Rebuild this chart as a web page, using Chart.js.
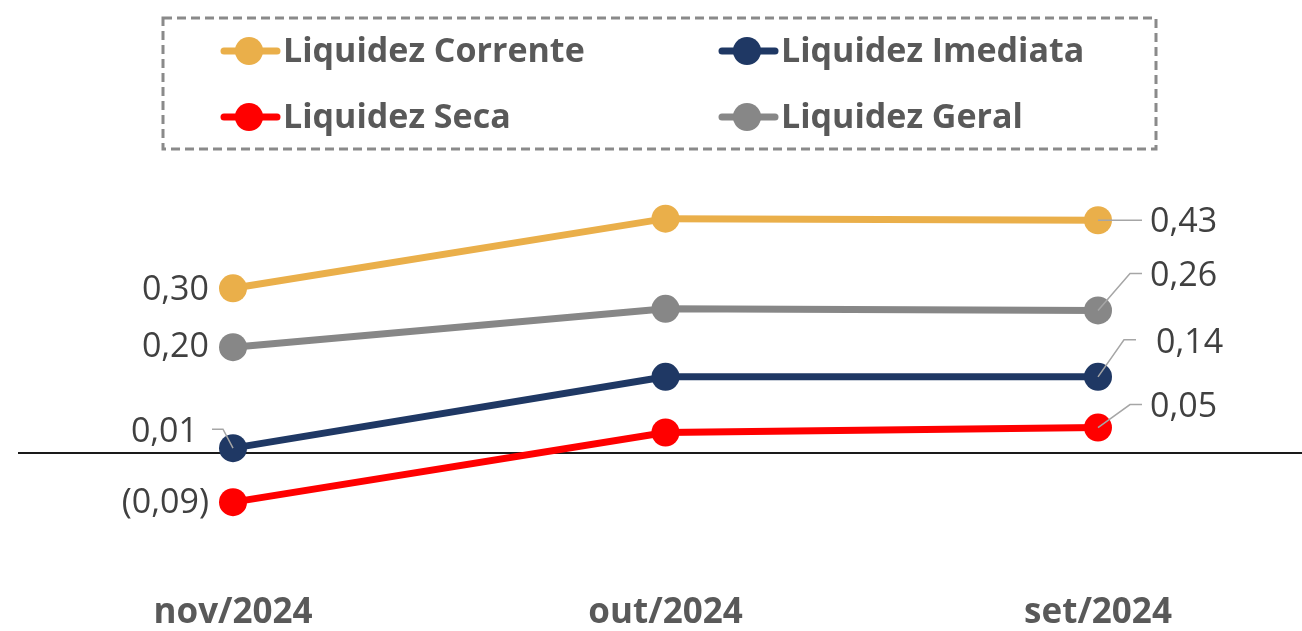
<!DOCTYPE html>
<html><head><meta charset="utf-8">
<script src="https://cdn.jsdelivr.net/npm/chart.js@4.4.1/dist/chart.umd.min.js"></script>
<style>html,body{margin:0;padding:0;background:#fff;}#wrap{width:1302px;height:631px;position:relative;}</style>
</head><body><div id="wrap"><canvas id="c" width="1302" height="631"></canvas></div>
<script>
const categories = ['nov/2024', 'out/2024', 'set/2024'];
const seriesNames = ['Liquidez Corrente', 'Liquidez Imediata', 'Liquidez Seca', 'Liquidez Geral'];
const corrente = [0.305, 0.434, 0.431];
const imediata = [0.009, 0.141, 0.141];
const seca = [-0.091, 0.038, 0.047];
const geral = [0.196, 0.267, 0.264];
const colors = ['#EAAF4A', '#1F3864', '#FF0000', '#878787'];
const yMin = -0.2, yMax = 0.5;

function fmt(v){
  const s = Math.abs(v).toFixed(2).replace('.', ',');
  return v < 0 ? '(' + s + ')' : s;
}

const labelStyle = {
  0: {left:{dx:-24, dy:2, leader:null}, right:{dx:52, dy:2, leader:[[0,0],[44,0]]}},
  1: {left:{dx:-35, dy:-16, leader:[[0,0],[-10,-19],[-21,-19]]}, right:{dx:58, dy:-34, leader:[[0,0],[26,-37],[38,-37]]}},
  2: {left:{dx:-24, dy:1, leader:null}, right:{dx:52, dy:-20, leader:[[0,0],[32,-23],[44,-23]]}},
  3: {left:{dx:-24, dy:0, leader:null}, right:{dx:52, dy:-34, leader:[[0,0],[32,-37],[44,-37]]}}
};

const zeroLine = {
  id:'zeroLine',
  beforeDatasetsDraw(chart){
    const ctx = chart.ctx, y = chart.scales.y.getPixelForValue(0);
    ctx.save();
    ctx.strokeStyle = '#1a1a1a'; ctx.lineWidth = 2;
    ctx.beginPath(); ctx.moveTo(18, y); ctx.lineTo(chart.width, y); ctx.stroke();
    ctx.restore();
  }
};

const labels = {
  id:'labels',
  afterDatasetsDraw(chart){
    const ctx = chart.ctx;
    ctx.save();
    chart.data.datasets.forEach((ds, i) => {
      const meta = chart.getDatasetMeta(i);
      const st = labelStyle[i];
      [[0, st.left, 'right'], [ds.data.length-1, st.right, 'left']].forEach(([idx, s, align]) => {
        const p = meta.data[idx];
        if (s.leader){
          ctx.strokeStyle = '#A6A6A6'; ctx.lineWidth = 1.5;
          ctx.beginPath();
          s.leader.forEach((pt, k) => { k ? ctx.lineTo(p.x+pt[0], p.y+pt[1]) : ctx.moveTo(p.x+pt[0], p.y+pt[1]); });
          ctx.stroke();
        }
        ctx.fillStyle = '#404040';
        ctx.font = '34px "Open Sans"';
        ctx.textAlign = align; ctx.textBaseline = 'middle';
        ctx.fillText(fmt(ds.data[idx]), p.x + s.dx, p.y + s.dy);
      });
    });
    const xs = chart.scales.x;
    ctx.fillStyle = '#595959';
    ctx.font = 'bold 35px "Open Sans"';
    ctx.textAlign = 'center'; ctx.textBaseline = 'middle';
    categories.forEach((c, i) => ctx.fillText(c, xs.getPixelForValue(i), 613));
    ctx.restore();
  }
};

const legendBox = {
  id:'legendBox',
  afterDraw(chart){
    const ctx = chart.ctx;
    ctx.save();
    ctx.strokeStyle = '#8A8A8A'; ctx.lineWidth = 3; ctx.setLineDash([9,5]);
    ctx.strokeRect(163, 18, 993, 131);
    ctx.setLineDash([]);
    const pos = [[249, 51], [747, 51], [249, 117], [747, 117]];
    chart.data.datasets.forEach((ds, i) => {
      const [cx, cy] = pos[i];
      ctx.strokeStyle = ds.borderColor; ctx.lineWidth = 7; ctx.lineCap = 'round';
      ctx.beginPath(); ctx.moveTo(cx-25, cy); ctx.lineTo(cx+28, cy); ctx.stroke();
      ctx.fillStyle = ds.borderColor;
      ctx.beginPath(); ctx.arc(cx, cy, 14, 0, Math.PI*2); ctx.fill();
      ctx.fillStyle = '#595959';
      ctx.font = 'bold 34px "Open Sans"';
      ctx.textAlign = 'left'; ctx.textBaseline = 'middle';
      ctx.fillText(ds.label, cx + 34, cy + 1);
    });
    ctx.restore();
  }
};

const seriesData = [corrente, imediata, seca, geral];
new Chart(document.getElementById('c'), {
  type:'line',
  data:{
    labels: categories,
    datasets: seriesNames.map((n, i) => ({
      label:n, data:seriesData[i], borderColor:colors[i], backgroundColor:colors[i],
      pointBackgroundColor:colors[i], pointBorderWidth:0, pointRadius:14, pointHoverRadius:14,
      borderWidth:7, tension:0, clip:false
    }))
  },
  options:{
    responsive:false, animation:false, devicePixelRatio:1,
    layout:{padding:{left:233, right:204, top:183, bottom:70}},
    plugins:{legend:{display:false}, tooltip:{enabled:false}},
    scales:{
      x:{display:false, offset:false},
      y:{display:false, min:yMin, max:yMax}
    }
  },
  plugins:[zeroLine, labels, legendBox]
});
</script></body></html>
